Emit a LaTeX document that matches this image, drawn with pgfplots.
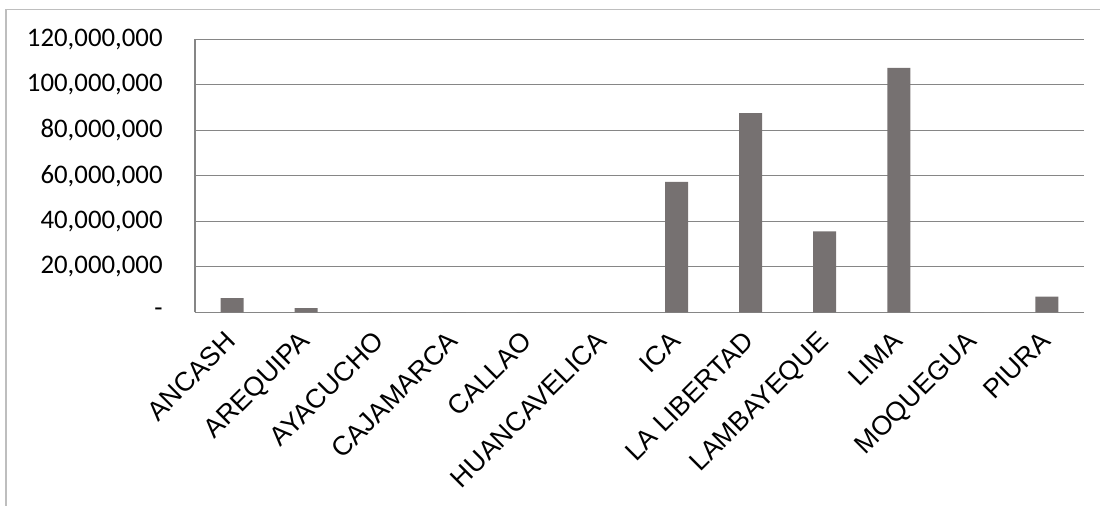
\documentclass[border=0pt]{standalone}
\usepackage{pgfplots}
\pgfplotsset{compat=1.18}
\usepackage{fontspec}
\setmainfont{Liberation Sans}
\newfontfamily\calibri{Carlito}
\definecolor{barfill}{RGB}{118,113,113}
\definecolor{gridgray}{RGB}{134,134,134}
\definecolor{framegray}{RGB}{190,190,190}
\begin{document}
\begin{tikzpicture}[x=1pt,y=1pt]
% canvas: 550pt x 253pt
\useasboundingbox (0,0) rectangle (550,253);
% chart area frame (left and top edges visible)
\draw[framegray, line width=0.6pt] (3,0) -- (3,248.25) -- (550,248.25);
\begin{axis}[
  at={(97.5pt,96.85pt)}, anchor=south west,
  scale only axis, width=444.5pt, height=136.5pt,
  xmin=-0.5, xmax=11.5, ymin=0, ymax=120000000,
  scaled y ticks=false,
  axis x line*=bottom, axis y line*=left,
  axis line style={gridgray, line width=0.6pt},
  ymajorgrids, grid style={gridgray, line width=0.6pt},
  major tick length=0pt,
  xtick={0,...,11},
  xticklabels={ANCASH,AREQUIPA,AYACUCHO,CAJAMARCA,CALLAO,HUANCAVELICA,ICA,LA LIBERTAD,LAMBAYEQUE,LIMA,MOQUEGUA,PIURA},
  xticklabel style={xshift=-4pt, yshift=-8.5pt, rotate=45, anchor=north east, inner sep=0pt,
    font=\fontsize{13.4}{15}\selectfont},
  ytick={0,20000000,40000000,60000000,80000000,100000000,120000000},
  yticklabels={{-\hspace{6pt}},{20,000,000},{40,000,000},{60,000,000},{80,000,000},{100,000,000},{120,000,000}},
  yticklabel style={anchor=east, inner sep=0pt, xshift=-16pt,
    font=\calibri\fontsize{13.4}{15}\selectfont},
  ybar, bar width=11.5pt,
  clip=false,
]
\addplot[fill=barfill, draw=none] coordinates {
  (0,6200000) (1,1800000) (2,0) (3,0) (4,0) (5,0)
  (6,57300000) (7,87500000) (8,35600000) (9,107400000) (10,0) (11,6900000)
};
\end{axis}
\end{tikzpicture}
\end{document}
